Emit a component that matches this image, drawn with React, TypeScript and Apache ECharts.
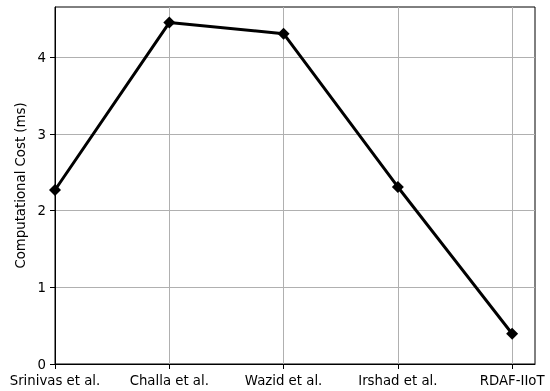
import React, { useEffect, useRef } from "react";
import * as echarts from "echarts";

const categories = ["Srinivas et al.", "Challa et al.", "Wazid et al.", "Irshad et al.", "RDAF-IIoT"];
const costValues = [2.27, 4.455, 4.31, 2.31, 0.395];
const yTicks = [0, 1, 2, 3, 4];
const yLabel = "Computational Cost (ms)";

export default function App() {
  const ref = useRef<HTMLDivElement>(null);
  useEffect(() => {
    if (!ref.current) return;
    const chart = echarts.init(ref.current, null, { renderer: "svg" });
    const font = "DejaVu Sans";
    const fs = 13.3;
    const xIdx = categories.map((_, i) => i);
    chart.setOption({
      animation: false,
      grid: {
        left: 55,
        right: 15,
        top: 7,
        bottom: 27,
        show: true,
        borderColor: "#000",
        borderWidth: 1,
        backgroundColor: "transparent",
      },
      xAxis: {
        type: "value",
        min: 0,
        max: 4.2,
        interval: 1,
        axisLine: { show: true, lineStyle: { color: "#000", width: 1 } },
        axisTick: {
          show: true,
          inside: false,
          length: 5,
          lineStyle: { color: "#000" },
          customValues: xIdx,
        },
        axisLabel: {
          customValues: xIdx,
          formatter: (v: number) => categories[Math.round(v)] ?? "",
          color: "#000",
          fontFamily: font,
          fontSize: fs,
          margin: 10,
        },
        splitLine: { show: true, lineStyle: { color: "#b0b0b0", width: 1 } },
      },
      yAxis: {
        type: "value",
        min: 0,
        max: 4.658,
        interval: 1,
        name: yLabel,
        nameLocation: "middle",
        nameGap: 22,
        nameTextStyle: { color: "#000", fontFamily: font, fontSize: fs },
        axisLine: { show: true, lineStyle: { color: "#000", width: 1 } },
        axisTick: {
          show: true,
          length: 5,
          lineStyle: { color: "#000" },
          customValues: yTicks,
        },
        axisLabel: {
          customValues: yTicks,
          color: "#000",
          fontFamily: font,
          fontSize: fs,
          margin: 9,
        },
        splitLine: { show: true, lineStyle: { color: "#b0b0b0", width: 1 } },
      },
      series: [
        {
          type: "line",
          data: costValues.map((v, i) => [i, v]),
          symbol: "diamond",
          symbolSize: 12,
          lineStyle: { color: "#000", width: 3 },
          itemStyle: { color: "#000" },
          clip: false,
        },
      ],
    });
    return () => chart.dispose();
  }, []);
  return (
    <div
      ref={ref}
      style={{ position: "fixed", left: 0, top: 0, width: 550, height: 391, overflow: "visible" }}
    />
  );
}
